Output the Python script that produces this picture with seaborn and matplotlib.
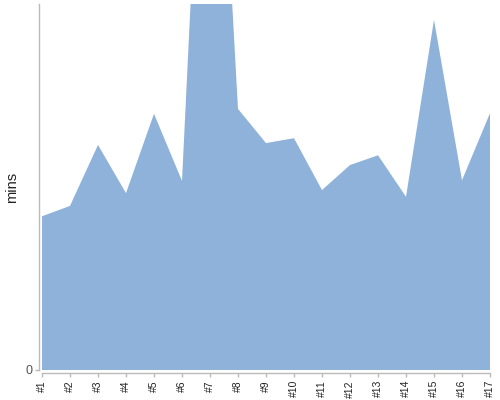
import numpy as np
import pandas as pd
import matplotlib
matplotlib.use('Agg')
import matplotlib.pyplot as plt
import seaborn as sns

# data (minutes per run)
labels = ['#1', '#2', '#3', '#4', '#5', '#6', '#7', '#8', '#9', '#10',
          '#11', '#12', '#13', '#14', '#15', '#16', '#17']
mins = [25.2, 26.9, 36.9, 29.0, 42.0, 31.0, 126.0, 42.8, 37.2, 38.0,
        29.5, 33.6, 35.2, 28.4, 57.4, 31.1, 42.1]

df = pd.DataFrame({'run': labels, 'mins': mins})
df['pos'] = np.arange(len(df))

sns.set_style('white')
plt.rcParams['font.family'] = ['Liberation Sans', 'DejaVu Sans']

fig = plt.figure(figsize=(5, 4), dpi=100)
ax = fig.add_axes([0.084, 0.075, 0.896, 0.915])

area_color = '#8fb2da'
sns.lineplot(data=df, x='pos', y='mins', ax=ax, color=area_color, linewidth=0)
ax.fill_between(df['pos'], 0, df['mins'], color=area_color, linewidth=0)

# spines offset a little from the data, d3 style
for side in ['top', 'right']:
    ax.spines[side].set_visible(False)
for side in ['left', 'bottom']:
    ax.spines[side].set_position(('outward', 2.2))
    ax.spines[side].set_color('#bbbbbb')
    ax.spines[side].set_linewidth(1)
ax.tick_params(axis='both', length=3, width=1, color='#bbbbbb', pad=2,
               bottom=True, left=True)

ax.set_xlim(0, len(df) - 1)
ax.set_ylim(0, 60)
ax.set_xticks(df['pos'])
ax.set_xticklabels(df['run'], fontsize=7.5, color='#222222')
ax.tick_params(axis='x', labelrotation=90)
ax.set_yticks([0])
ax.set_yticklabels(['0'], fontsize=9, color='#555555')
ax.set_xlabel('')
ax.set_ylabel('mins', fontsize=10.5, color='#222222')
ax.yaxis.set_label_coords(-0.051, 0.5)

fig.savefig('out.png', dpi=100)
